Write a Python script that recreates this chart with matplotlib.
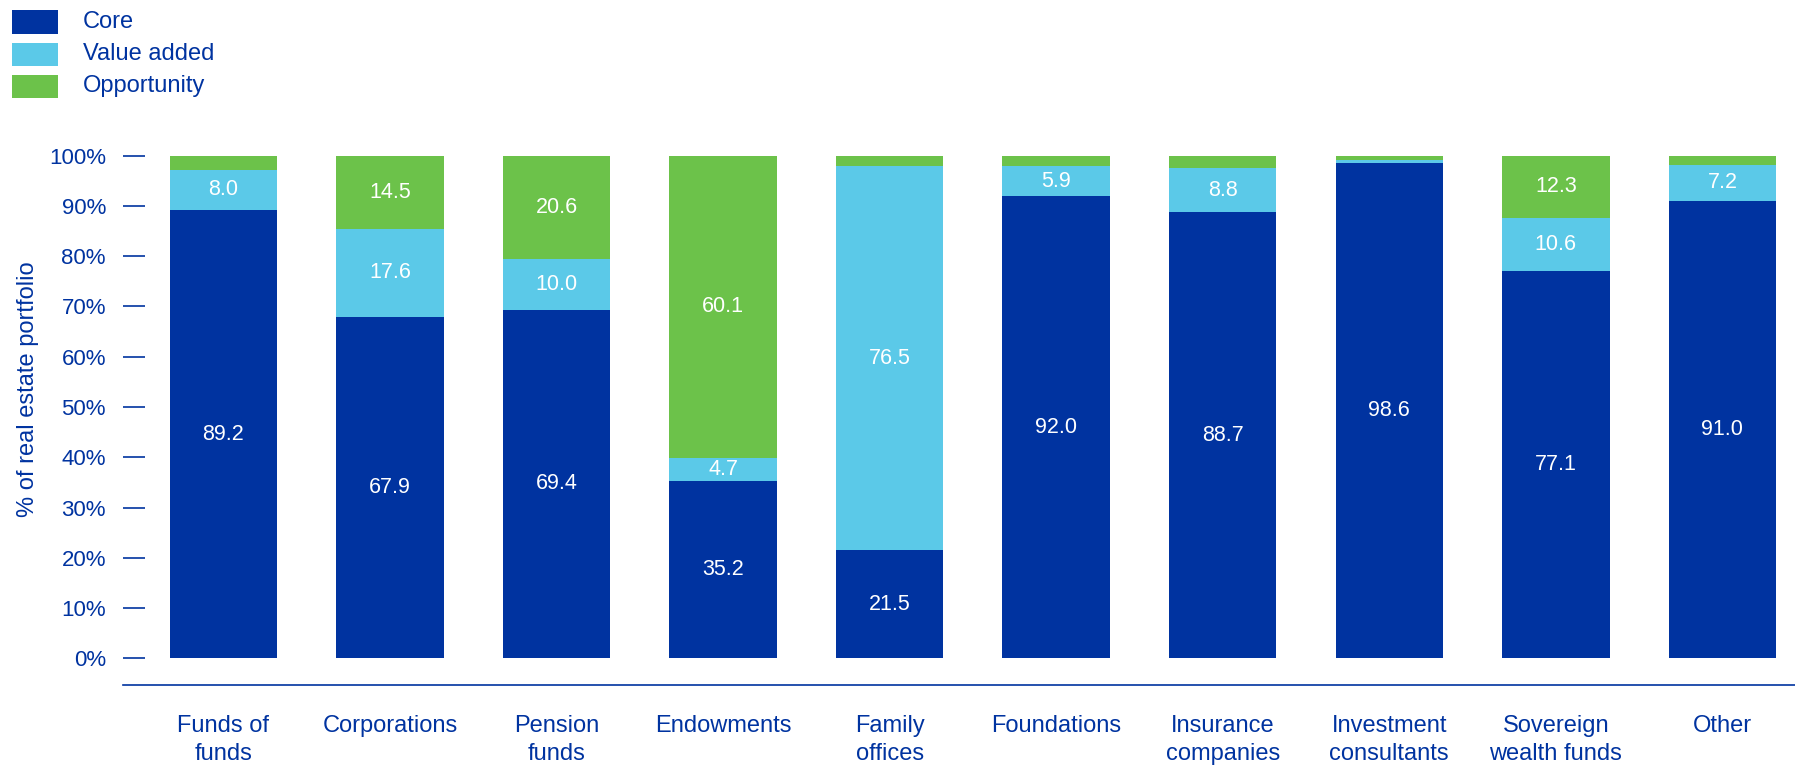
import matplotlib
matplotlib.use("Agg")
import matplotlib.pyplot as plt
from matplotlib.patches import Rectangle
import numpy as np

plt.rcParams['font.family'] = ['Liberation Sans', 'DejaVu Sans']

categories = ["Funds of\nfunds", "Corporations", "Pension\nfunds", "Endowments",
              "Family\noffices", "Foundations", "Insurance\ncompanies",
              "Investment\nconsultants", "Sovereign\nwealth funds", "Other"]
core = [89.2, 67.9, 69.4, 35.2, 21.5, 92.0, 88.7, 98.6, 77.1, 91.0]
value_added = [8.0, 17.6, 10.0, 4.7, 76.5, 5.9, 8.8, 0.5, 10.6, 7.2]
opportunity = [2.8, 14.5, 20.6, 60.1, 2.0, 2.1, 2.5, 0.9, 12.3, 1.8]

# which segments carry a value label
label_core = [True, True, True, True, True, True, True, True, True, True]
label_va = [True, True, True, True, True, True, True, False, True, True]
label_opp = [False, True, True, True, False, False, False, False, True, False]

series_names = ["Core", "Value added", "Opportunity"]
colors = ["#0033A0", "#5BC9E8", "#6CC24A"]
text_color = "#0033A0"

fig = plt.figure(figsize=(17.95, 7.65), dpi=100)
ax = fig.add_axes([0.0683, 0.105, 0.9317, 0.6915])

x = np.arange(len(categories))
width = 0.645
bottoms = np.zeros(len(categories))
for vals, flags, col in zip([core, value_added, opportunity],
                            [label_core, label_va, label_opp], colors):
    vals = np.array(vals)
    ax.bar(x, vals, width, bottom=bottoms, color=col, linewidth=0, clip_on=False)
    for xi, b, v, f in zip(x, bottoms, vals, flags):
        if f:
            ax.text(xi, b + v / 2, f"{v:.1f}", ha="center", va="center",
                    color="white", fontsize=15.5)
    bottoms += vals

ax.set_xlim(-0.605, 9.436)
ax.set_ylim(-5.23, 100)
ax.set_yticks(np.arange(0, 101, 10))
ax.set_yticklabels([f"{v}%" for v in range(0, 101, 10)])
ax.tick_params(axis="y", direction="in", length=16, width=1.2, color=text_color,
               labelcolor=text_color, labelsize=16, pad=12)
ax.set_xticks(x)
ax.set_xticklabels(categories)
ax.tick_params(axis="x", length=0, labelcolor=text_color, labelsize=17, pad=22)
for t in ax.get_xticklabels():
    t.set_linespacing(1.35)

for s in ["top", "right", "left"]:
    ax.spines[s].set_visible(False)
ax.spines["bottom"].set_color(text_color)
ax.spines["bottom"].set_linewidth(1.2)

ax.set_ylabel("% of real estate portfolio", color=text_color, fontsize=17)
ax.yaxis.label.set_verticalalignment("center")
ax.yaxis.set_label_coords(-0.0565, 0.558)

# legend drawn at the top left
W, H = 1795, 765
rows_y = [22, 54, 86]
for name, col, yc in zip(series_names, colors, rows_y):
    fig.add_artist(Rectangle((12 / W, 1 - (yc + 11.5) / H), 46 / W, 23 / H,
                             transform=fig.transFigure, facecolor=col, linewidth=0))
    fig.text(83 / W, 1 - yc / H, name, color=text_color, fontsize=17,
             ha="left", va="center")

fig.savefig("out.png", dpi=100)
